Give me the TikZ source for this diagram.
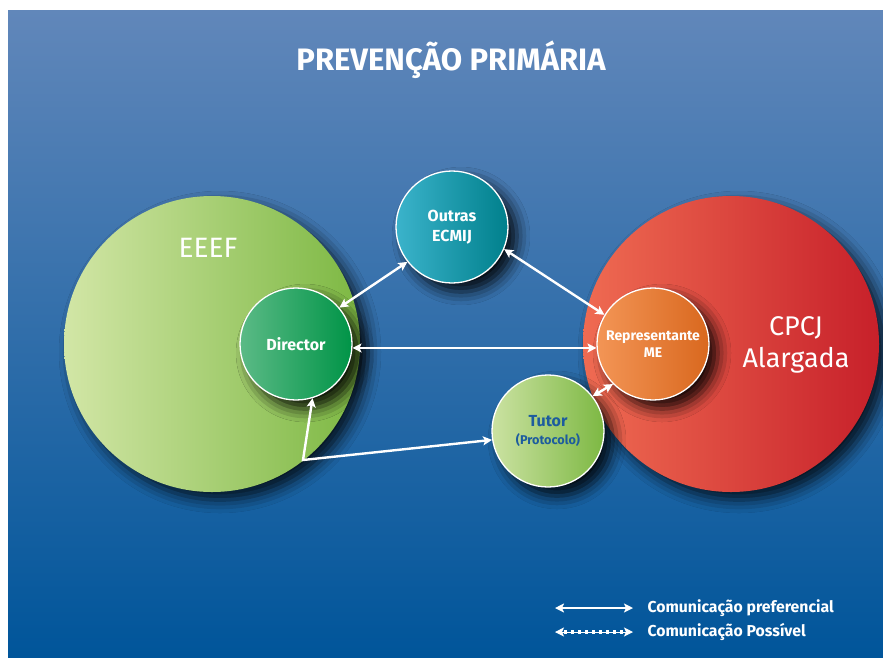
\documentclass[tikz,border=0pt]{standalone}
\usepackage{fontspec}
\setmainfont{Fira Sans}
\usetikzlibrary{shadows.blur,arrows.meta}

\definecolor{bgtop}{HTML}{6187BA}
\definecolor{bgbot}{HTML}{00559A}
\definecolor{eeefL}{HTML}{D2E6A6}
\definecolor{eeefR}{HTML}{7DB843}
\definecolor{dirL}{HTML}{5BBA86}
\definecolor{dirM}{HTML}{00A859}
\definecolor{dirR}{HTML}{009447}
\definecolor{outL}{HTML}{3BB3CB}
\definecolor{outM}{HTML}{00A3BF}
\definecolor{outR}{HTML}{00808C}
\definecolor{cpcL}{HTML}{EF6B52}
\definecolor{cpcM}{HTML}{E6202A}
\definecolor{cpcR}{HTML}{C7202A}
\definecolor{repL}{HTML}{F39556}
\definecolor{repM}{HTML}{EF7A1F}
\definecolor{repR}{HTML}{D9681E}
\definecolor{tutL}{HTML}{CBE2A2}
\definecolor{tutR}{HTML}{7DB843}
\definecolor{tuttext}{HTML}{1D5C9E}

\tikzset{
    bigcirc/.style={circle, inner sep=0pt, minimum size=296pt,
        blur shadow={shadow xshift=8pt, shadow yshift=-8pt, shadow blur radius=13pt, shadow opacity=80}},
    smallcirc/.style={circle, draw=white, line width=1.3pt, inner sep=0pt, minimum size=112pt,
        align=center, text=white, font=\bfseries\fontsize{16}{20}\selectfont,
        blur shadow={shadow xshift=9pt, shadow yshift=-9pt, shadow blur radius=13pt, shadow opacity=90}},
    conn/.style={white, line width=2.4pt, {Stealth[length=9pt,width=9pt,inset=2pt]}-{Stealth[length=9pt,width=9pt,inset=2pt]}},
    legtext/.style={anchor=west, text=white, font=\bfseries\fontsize{15.8}{18}\selectfont}
}

\begin{document}
\begin{tikzpicture}[x=1pt,y=-1pt]

    \useasboundingbox (0,0) rectangle (883,657);
    \shade[top color=bgtop, bottom color=bgbot] (8,10) rectangle (883,657);

    \node[text=white, font=\bfseries\fontsize{31}{35}\selectfont] (title) at (451,60) {PREVENÇÃO PRIMÁRIA};

    % big circles
    \node[bigcirc, left color=eeefL, right color=eeefR] (eeef) at (212,344) {};
    \node[bigcirc, left color=cpcL, middle color=cpcM, right color=cpcR] (cpcj) at (731,344) {};
    \node[text=white, font=\fontsize{28}{32}\selectfont] (eeeflab) at (208,248) {EEEF};
    \node[text=white, align=center, font=\fontsize{27}{32}\selectfont] (cpcjlab) at (796,345) {CPCJ\\Alargada};

    % small circles
    \node[smallcirc, left color=dirL, middle color=dirM, right color=dirR] (dir) at (296,344) {Director};
    \node[smallcirc, left color=outL, middle color=outM, right color=outR] (out) at (452,227) {Outras\\ECMIJ};
    \node[smallcirc, left color=repL, middle color=repM, right color=repR,
        font=\bfseries\fontsize{14}{17}\selectfont] (rep) at (653,344) {Representante\\ME};
    \node[smallcirc, left color=tutL, right color=tutR, text=tuttext] (tut) at (548,431)
        {Tutor\\[-2pt]{\fontsize{12.7}{15}\selectfont(Protocolo)}};

    % connectors
    \coordinate (bend) at (303,460);
    \draw[conn] (dir.40) -- (out.218);
    \draw[conn] (out.-23) -- (rep.149);
    \draw[conn] (dir.-4) -- (rep.184);
    \draw[conn] (tut.38) -- (rep.225);
    \draw[conn] (dir.-73) -- (bend) -- (tut.189);

    % legend
    \coordinate (la) at (555,608);
    \coordinate (lb) at (633,608);
    \coordinate (lc) at (555,632);
    \coordinate (ld) at (633,632);
    \draw[conn] (la) -- (lb);
    \draw[white, line width=1pt, {Stealth[length=9pt,width=9pt,inset=2pt]}-{Stealth[length=9pt,width=9pt,inset=2pt]}] (lc) -- (ld);
    \draw[white, line width=3.5pt, dash pattern=on 3pt off 4pt, shorten <=9pt, shorten >=9pt] (lc) -- (ld);
    \node[legtext] (leg1) at (644,608) {Comunicação preferencial};
    \node[legtext] (leg2) at (644,632) {Comunicação Possível};

\end{tikzpicture}
\end{document}
